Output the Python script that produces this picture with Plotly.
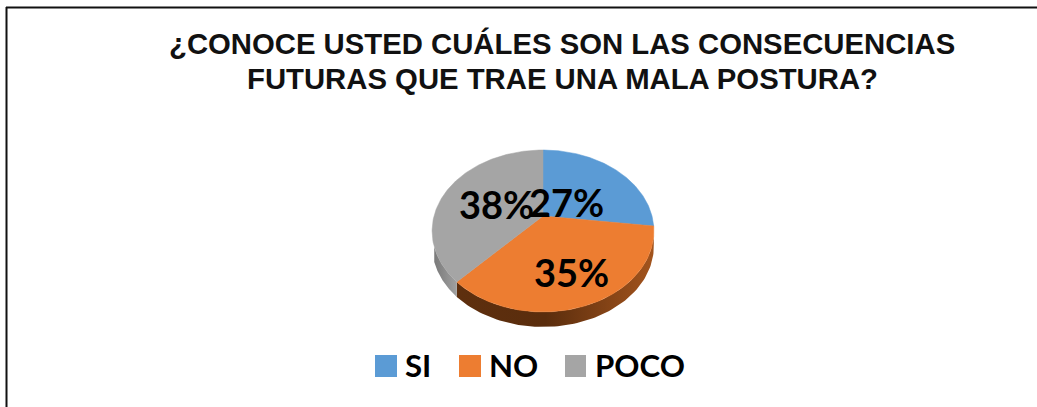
import numpy as np
import plotly.graph_objects as go

# ---- data ----
categories = ["SI", "NO", "POCO"]
percentages = [27, 35, 38]
colors = ["#5b9bd5", "#ed7d31", "#a5a5a5"]
title_lines = ["¿CONOCE USTED CUÁLES SON LAS CONSECUENCIAS",
               "FUTURAS QUE TRAE UNA MALA POSTURA?"]

# ---- layout constants (pixels in the 1037x407 page) ----
W, H = 1037, 407
APEX_X, APEX_Y = 543, 216      # where the slices meet
SCALE_X, SCALE_Y = 109, 78.2   # pie radius in perspective
TILT = 0.185                   # perspective strength
DEPTH = 15                     # thickness of the pie
LABEL_PX = [(566, 201.5), (571, 272), (496, 204.5)]
SWATCH_PX = [(375, 397), (459, 481), (565, 586)]
LEGEND_TEXT_X = [403, 487, 593]


def project(frac, drop=0.0):
    """Map a fraction of the turn (clockwise from 12 o'clock) onto the tilted disc, in px."""
    t = 2 * np.pi * np.asarray(frac, dtype=float)
    u, v = np.sin(t), np.cos(t)
    d = 1 + TILT * v
    return APEX_X + SCALE_X * u / d, APEX_Y - SCALE_Y * v / d + drop


def fx(px):
    return px / W


def fy(py):
    return 1 - py / H


fig = go.Figure()
edges = np.cumsum([0] + percentages) / sum(percentages)

# side wall of the disc, visible along the lower rim
rim_specs = [
    (edges[1], edges[2], [[0, "#5e2f0e"], [0.45, "#5a2d0d"], [1, "#a3541d"]]),
    (edges[2], 0.69, [[0, "#7a7a7a"], [1, "#a0a0a0"]]),
]
for start, end, scale in rim_specs:
    f = np.linspace(start, end, 90)
    x1, y1 = project(f)
    x2, y2 = project(f[::-1], DEPTH)
    fig.add_trace(go.Scatter(
        x=np.r_[x1, x2], y=np.r_[y1, y2], mode="lines", fill="toself",
        line=dict(width=0), showlegend=False, hoverinfo="skip",
        fillgradient=dict(type="horizontal", colorscale=scale),
    ))

# top face slices
for i, (name, col) in enumerate(zip(categories, colors)):
    f = np.linspace(edges[i], edges[i + 1], 160)
    x, y = project(f)
    fig.add_trace(go.Scatter(
        x=np.r_[APEX_X, x, APEX_X], y=np.r_[APEX_Y, y, APEX_Y],
        mode="lines", fill="toself", fillcolor=col,
        line=dict(width=0.5, color=col), name=name, showlegend=False,
        hovertemplate=f"{name}: {percentages[i]}%<extra></extra>",
    ))

annotations = []
for k, line in enumerate(title_lines):
    annotations.append(dict(
        text=f"<b>{line}</b>", x=fx(562), y=fy(43 + 35 * k), xref="paper", yref="paper",
        xanchor="center", yanchor="middle", showarrow=False,
        font=dict(family="Liberation Sans", size=29.3, color="#111111"),
    ))
for p, (lx, ly) in zip(percentages, LABEL_PX):
    annotations.append(dict(
        text=f"<b>{p}%</b>", x=fx(lx), y=fy(ly), xref="paper", yref="paper",
        xanchor="center", yanchor="middle", showarrow=False,
        font=dict(family="Lato", size=38, color="#000000"),
    ))
shapes = [
    dict(type="line", xref="paper", yref="paper", x0=fx(6.5), x1=fx(6.5), y0=fy(407), y1=fy(7),
         line=dict(color="#111111", width=2)),
    dict(type="line", xref="paper", yref="paper", x0=fx(6), x1=1, y0=fy(7.5), y1=fy(7.5),
         line=dict(color="#111111", width=2)),
]
for name, col, (x0, x1), tx in zip(categories, colors, SWATCH_PX, LEGEND_TEXT_X):
    shapes.append(dict(type="rect", xref="paper", yref="paper", x0=fx(x0), x1=fx(x1),
                       y0=fy(377), y1=fy(355), fillcolor=col, line=dict(width=0)))
    annotations.append(dict(
        text=f"<b>{name}</b>", x=fx(tx), y=fy(365), xref="paper", yref="paper",
        xanchor="left", yanchor="middle", showarrow=False,
        font=dict(family="Lato", size=31.2, color="#000000"),
    ))

fig.update_layout(
    width=W, height=H, margin=dict(l=0, r=0, t=0, b=0),
    paper_bgcolor="white", plot_bgcolor="white", showlegend=False,
    xaxis=dict(range=[0, W], visible=False, fixedrange=True),
    yaxis=dict(range=[H, 0], visible=False, fixedrange=True),
    annotations=annotations, shapes=shapes,
)
fig.write_html("out.html", config=dict(displayModeBar=False),
               post_script="document.body.style.margin='0';document.body.style.overflow='hidden';")
